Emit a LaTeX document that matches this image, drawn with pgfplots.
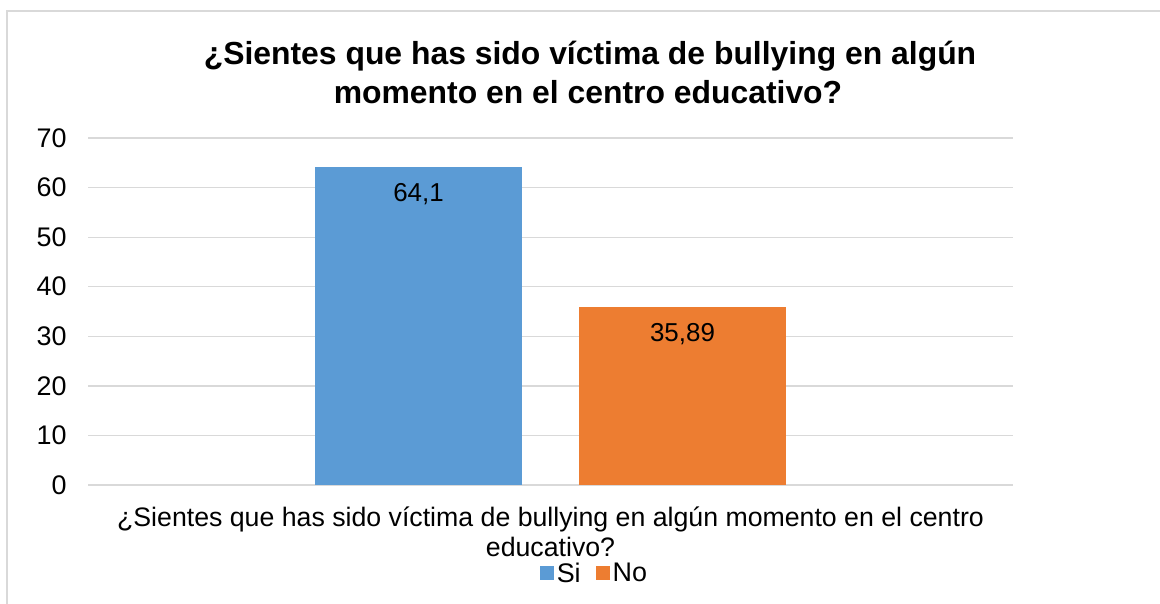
\documentclass[border=0pt]{standalone}
\usepackage{pgfplots}
\pgfplotsset{compat=1.18}
\usepackage{fontspec}
\setmainfont{Liberation Sans}
\definecolor{cblue}{RGB}{91,155,213}
\definecolor{corange}{RGB}{237,125,49}
\definecolor{cgrid}{RGB}{217,217,217}
\begin{document}
\begin{tikzpicture}
\useasboundingbox (0,0) rectangle (1160bp,-604bp);
\draw[cgrid, line width=1.5bp] (7bp,-610bp) -- (7bp,-11bp) -- (1170bp,-11bp);
\node[anchor=base, font=\fontsize{32}{39}\selectfont\bfseries] at (590bp,-64bp) {¿Sientes que has sido víctima de bullying en algún};
\node[anchor=base, font=\fontsize{32}{39}\selectfont\bfseries] at (588bp,-103bp) {momento en el centro educativo?};
\begin{axis}[
  at={(88bp,-485bp)}, anchor=south west,
  scale only axis, width=925bp, height=347bp,
  xmin=-1, xmax=1, ymin=0, ymax=70,
  enlarge x limits=false, enlarge y limits=false,
  ytick={0,10,...,70},
  xtick={0},
  xticklabels={{¿Sientes que has sido víctima de bullying en algún momento en el centro\\educativo?}},
  xticklabel style={align=center, font=\fontsize{26.8}{30}\selectfont, yshift=-18bp},
  yticklabel style={font=\fontsize{27}{30}\selectfont, xshift=-18bp},
  /pgf/number format/assume math mode=true,
  ymajorgrids, grid style={cgrid, line width=1.3bp},
  axis line style={draw=none},
  axis x line*=bottom,
  x axis line style={cgrid, line width=1.3bp},
  major tick length=0pt,
  ybar,
  bar width=0.4476,
  nodes near coords,
  point meta=explicit symbolic,
  every node near coord/.append style={font=\fontsize{26}{30}\selectfont, anchor=north, yshift=-13bp, text=black},
  legend columns=2,
  legend style={at={(0.548,-0.2536)}, anchor=center, draw=none, fill=none,
    font=\fontsize{27}{30}\selectfont,
    /tikz/every odd column/.append style={column sep=0bp},
    /tikz/every even column/.append style={column sep=12bp},
    nodes={inner xsep=3bp}},
  legend image code/.code={\fill[#1] (0bp,-7bp) rectangle (14bp,7bp);},
]
\addplot[fill=cblue, draw=none, bar shift=-0.2854] coordinates {(0,64.1) [64,1]};
\addplot[fill=corange, draw=none, bar shift=0.2854] coordinates {(0,35.89) [35,89]};
\legend{Si,No}
\end{axis}
\end{tikzpicture}
\end{document}
